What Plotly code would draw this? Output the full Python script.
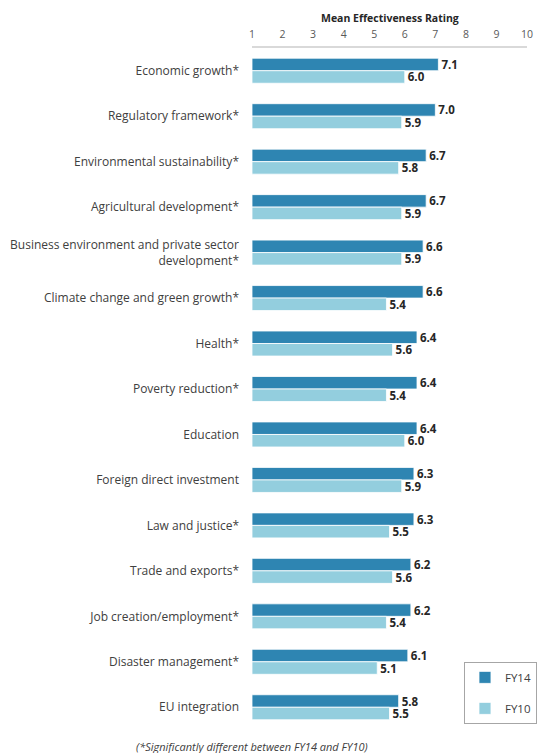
import plotly.graph_objects as go

categories = [
    "Economic growth*",
    "Regulatory framework*",
    "Environmental sustainability*",
    "Agricultural development*",
    "Business environment and private sector<br>development*",
    "Climate change and green growth*",
    "Health*",
    "Poverty reduction*",
    "Education",
    "Foreign direct investment",
    "Law and justice*",
    "Trade and exports*",
    "Job creation/employment*",
    "Disaster management*",
    "EU integration",
]
fy14 = [7.1, 7.0, 6.7, 6.7, 6.6, 6.6, 6.4, 6.4, 6.4, 6.3, 6.3, 6.2, 6.2, 6.1, 5.8]
fy10 = [6.0, 5.9, 5.8, 5.9, 5.9, 5.4, 5.6, 5.4, 6.0, 5.9, 5.5, 5.6, 5.4, 5.1, 5.5]
tick_vals = [1, 2, 3, 4, 5, 6, 7, 8, 9, 10]

FONT = "Open Sans"
DARK = "#2E85B2"
LIGHT = "#93CEDE"

fig = go.Figure()
for name, vals, color, grp in [("FY14", fy14, DARK, "a"), ("FY10", fy10, LIGHT, "b")]:
    fig.add_trace(go.Bar(
        name=name,
        y=categories,
        x=[v - 1 for v in vals],
        base=1,
        orientation="h",
        marker=dict(color=color, line=dict(color="white", width=0.8)),
        text=[f"{v:.1f}" for v in vals],
        textposition="outside",
        constraintext="none",
        textfont=dict(family=FONT, size=11.5, color="#262626", weight="bold"),
        cliponaxis=False,
        legendgroup=grp,
    ))

fig.update_layout(
    width=540, height=753,
    margin=dict(l=252, r=13, t=48, b=23, autoexpand=False),
    paper_bgcolor="white", plot_bgcolor="white",
    barmode="group", bargap=0.45, bargroupgap=0,
    font=dict(family=FONT, color="#404040"),
    showlegend=True,
    legend=dict(
        xref="container", yref="container",
        x=0.9944, y=0.121, xanchor="right", yanchor="top",
        bordercolor="#A6A6A6", borderwidth=1, bgcolor="white",
        font=dict(family=FONT, size=11.5, color="#404040"),
        traceorder="grouped", tracegroupgap=12,
        itemwidth=30,
    ),
    xaxis=dict(
        side="top", range=[1, 10], tickvals=tick_vals,
        showgrid=False, zeroline=False,
        showline=True, linecolor="#D9D9D9", linewidth=1.5,
        ticks="", ticklabelstandoff=4,
        tickfont=dict(family=FONT, size=10.5, color="#595959"),
    ),
    yaxis=dict(
        autorange="reversed", showgrid=False, zeroline=False,
        showline=False, ticks="", ticklabelstandoff=12,
        tickfont=dict(family=FONT, size=12, color="#404040"),
    ),
    annotations=[
        dict(text="<b>Mean Effectiveness Rating</b>", xref="paper", yref="paper",
             x=0.5, y=1, yshift=30, xanchor="center", yanchor="middle",
             showarrow=False, font=dict(family=FONT, size=10.5, color="#262626")),
        dict(text="<i>(*Significantly different between FY14 and FY10)</i>",
             xref="paper", yref="paper", x=0, y=0, yshift=-16,
             xanchor="center", yanchor="middle",
             showarrow=False, font=dict(family=FONT, size=11, color="#404040")),
    ],
)

fig.write_html("out.html")
